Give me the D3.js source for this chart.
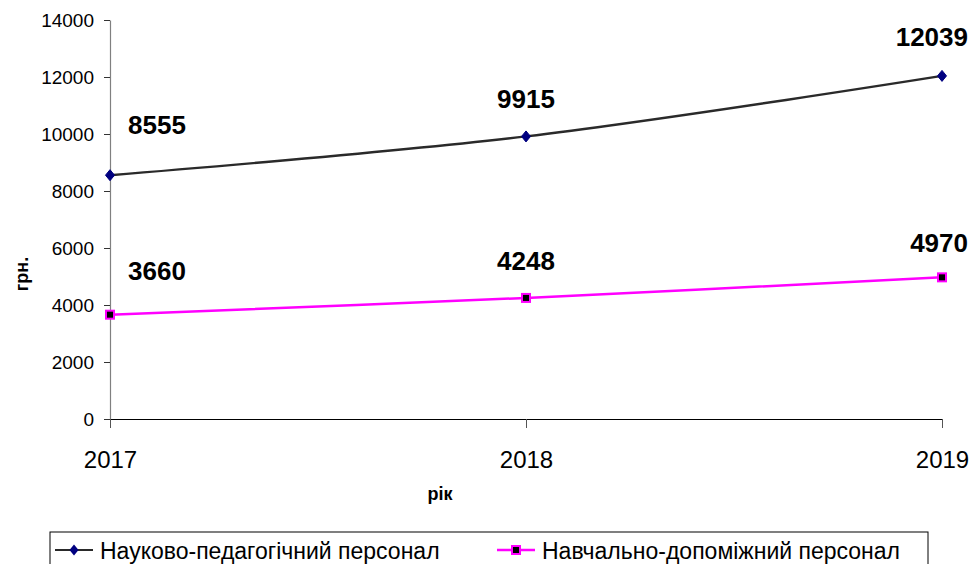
<!DOCTYPE html>
<html>
<head>
<meta charset="utf-8">
<script src="https://cdn.jsdelivr.net/npm/d3@7"></script>
<style>
  body { margin: 0; background: #fff; }
  svg { display: block; font-family: "Liberation Sans", Arial, sans-serif; }
</style>
</head>
<body>
<div id="chart"></div>
<script>
const years = ["2017", "2018", "2019"];
const naukovo = [8555, 9915, 12039];
const navchalno = [3660, 4248, 4970];
const yTicks = [0, 2000, 4000, 6000, 8000, 10000, 12000, 14000];
const seriesNames = ["Науково-педагогічний персонал", "Навчально-допоміжний персонал"];

const width = 971, height = 564;

const svg = d3.select("#chart")
    .append("svg")
    .attr("width", width)
    .attr("height", height);

const x = d3.scalePoint().domain(years).range([110, 942]);
const y = d3.scaleLinear().domain([0, 14000]).range([419, 20]);

// y axis
const yAxis = svg.append("g")
    .attr("transform", "translate(110,0)")
    .call(d3.axisLeft(y).tickValues(yTicks).tickSize(6).tickSizeOuter(0).tickPadding(10).tickFormat(d3.format("d")));
yAxis.select(".domain").attr("stroke", "#808080").attr("stroke-width", 1.2);
yAxis.selectAll(".tick line").attr("stroke", "#333");
yAxis.selectAll("text").attr("font-size", 19).attr("fill", "#000");

// x axis
const xAxis = svg.append("g")
    .attr("transform", "translate(0,419)")
    .call(d3.axisBottom(x).tickSize(9).tickSizeOuter(0));
xAxis.select(".domain").attr("stroke", "#000").attr("stroke-width", 1.2);
xAxis.selectAll(".tick line").attr("stroke", "#555");
xAxis.selectAll("text").attr("font-size", 24).attr("fill", "#000").attr("y", 49).attr("dy", null);

// axis titles
svg.append("text")
    .attr("x", 440).attr("y", 500)
    .attr("text-anchor", "middle")
    .attr("font-size", 18).attr("font-weight", "bold")
    .text("рік");
svg.append("text")
    .attr("transform", "translate(28,274) rotate(-90)")
    .attr("text-anchor", "middle")
    .attr("font-size", 18).attr("font-weight", "bold")
    .text("грн.");

const line = d3.line()
    .x((d, i) => x(years[i]))
    .y(d => y(d))
    .curve(d3.curveCatmullRom);

// series 1
svg.append("path")
    .datum(naukovo)
    .attr("d", line)
    .attr("fill", "none")
    .attr("stroke", "#2a2a2a")
    .attr("stroke-width", 2.4);

// series 2
svg.append("path")
    .datum(navchalno)
    .attr("d", line)
    .attr("fill", "none")
    .attr("stroke", "#ff00ff")
    .attr("stroke-width", 2.5);

const diamond = "M0,-5.5L4.5,0L0,5.5L-4.5,0Z";

svg.selectAll(".m1")
    .data(naukovo)
    .enter()
    .append("path")
    .attr("class", "m1")
    .attr("d", diamond)
    .attr("transform", (d, i) => `translate(${x(years[i])},${y(d)})`)
    .attr("fill", "#000080")
    .attr("stroke", "#000080")
    .attr("stroke-width", 1);

svg.selectAll(".m2")
    .data(navchalno)
    .enter()
    .append("rect")
    .attr("class", "m2")
    .attr("x", (d, i) => x(years[i]) - 4)
    .attr("y", d => y(d) - 4)
    .attr("width", 8)
    .attr("height", 8)
    .attr("fill", "#000")
    .attr("stroke", "#ff00ff")
    .attr("stroke-width", 2);

// data labels
const labelAnchor = ["start", "middle", "end"];
const labelDx = [18, 0, 26];
const labelDy = [[-41, -28, -30], [-35, -28, -25]];

[naukovo, navchalno].forEach((series, s) => {
    svg.selectAll(".lbl" + s)
        .data(series)
        .enter()
        .append("text")
        .attr("class", "lbl" + s)
        .attr("x", (d, i) => x(years[i]) + labelDx[i])
        .attr("y", (d, i) => y(d) + labelDy[s][i])
        .attr("text-anchor", (d, i) => labelAnchor[i])
        .attr("font-size", 26)
        .attr("font-weight", "bold")
        .text(d => d);
});

// legend
const legend = svg.append("g");
legend.append("rect")
    .attr("x", 50).attr("y", 532)
    .attr("width", 878).attr("height", 50)
    .attr("fill", "#fff")
    .attr("stroke", "#000")
    .attr("stroke-width", 1);

const legX = [55, 497];
legX.forEach((lx, i) => {
    legend.append("line")
        .attr("x1", lx).attr("x2", lx + 38)
        .attr("y1", 550).attr("y2", 550)
        .attr("stroke", i === 0 ? "#2a2a2a" : "#ff00ff")
        .attr("stroke-width", i === 0 ? 2.2 : 2.5);
    if (i === 0) {
        legend.append("path")
            .attr("d", diamond)
            .attr("transform", `translate(${lx + 19},550)`)
            .attr("fill", "#000080");
    } else {
        legend.append("rect")
            .attr("x", lx + 15).attr("y", 546)
            .attr("width", 8).attr("height", 8)
            .attr("fill", "#000")
            .attr("stroke", "#ff00ff")
            .attr("stroke-width", 2);
    }
    legend.append("text")
        .attr("x", lx + 45).attr("y", 559)
        .attr("font-size", 23)
        .text(seriesNames[i]);
});
</script>
</body>
</html>
